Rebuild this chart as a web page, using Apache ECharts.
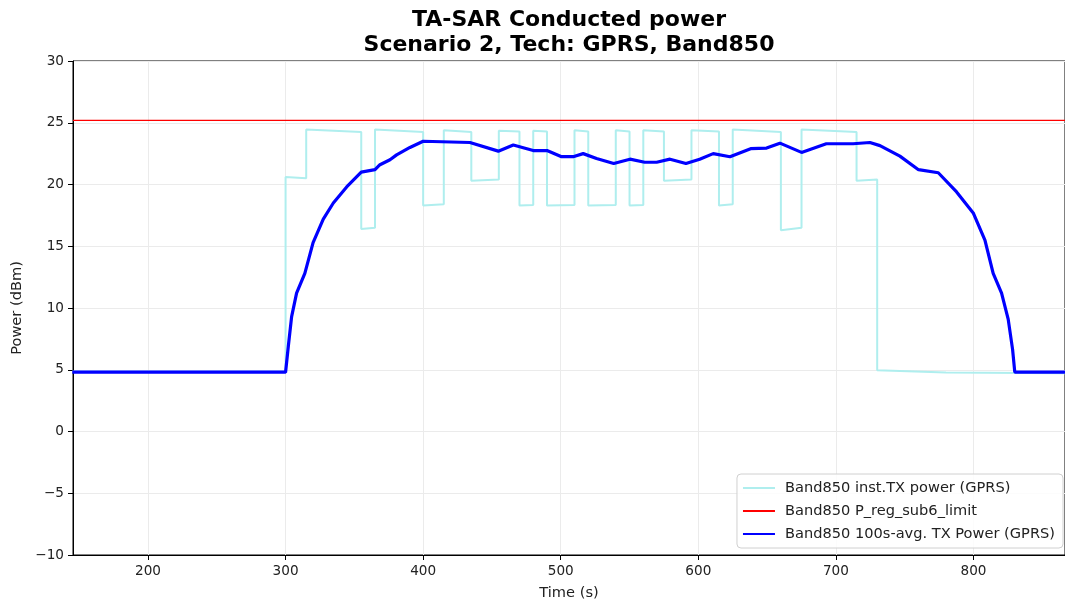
<!DOCTYPE html>
<html>
<head>
<meta charset="utf-8">
<script src="https://cdn.jsdelivr.net/npm/echarts@6/dist/echarts.min.js"></script>
<style>
  html, body { margin: 0; padding: 0; background: #fff; }
  #chart { width: 1065px; height: 606px; }
</style>
</head>
<body>
<div id="chart"></div>
<script>
// x ticks shown on the time axis
const timeTicks = [200, 300, 400, 500, 600, 700, 800];

// instantaneous TX power (step trace)
const instTime = [
  145, 300, 300, 315, 315, 355, 355, 365, 365, 400, 400, 415, 415, 435, 435, 455,
  455, 470, 470, 480, 480, 490, 490, 510, 510, 520, 520, 540, 540, 550, 550, 560,
  560, 575, 575, 595, 595, 615, 615, 625, 625, 660, 660, 675, 675, 715, 715, 730,
  730, 780, 867
];
const instPower = [
  4.85, 4.85, 20.6, 20.5, 24.45, 24.25, 16.4, 16.5, 24.45, 24.25, 18.3, 18.4, 24.4, 24.25, 20.3, 20.4,
  24.35, 24.3, 18.3, 18.35, 24.35, 24.3, 18.3, 18.35, 24.4, 24.3, 18.3, 18.35, 24.4, 24.3, 18.3, 18.35,
  24.4, 24.3, 20.3, 20.4, 24.4, 24.3, 18.3, 18.4, 24.45, 24.25, 16.3, 16.5, 24.45, 24.25, 20.3, 20.4,
  4.95, 4.78, 4.72
];

// regulatory limit
const limitValue = 25.2;

// 100 s averaged TX power
const avgTime = [
  145, 300, 302, 304.4, 308, 314, 320, 327.4, 334.7, 344.4, 355, 365, 368.6, 375.9,
  380.7, 390.4, 400, 434, 454.6, 465.5, 480, 490, 500.6, 509, 516.3, 526, 538.5,
  550.3, 561, 569.7, 579.4, 591, 601, 610.8, 623, 638, 649.6, 659.3, 675, 693,
  712.5, 724.7, 732, 746.5, 760, 774.4, 787.7, 799.8, 808.3, 814.3, 820.4, 825.2,
  828.4, 830, 867
];
const avgPower = [
  4.8, 4.8, 6.9, 9.3, 11.2, 12.8, 15.3, 17.2, 18.5, 19.8, 21.0, 21.2, 21.6, 22.0,
  22.4, 23.0, 23.5, 23.4, 22.7, 23.2, 22.75, 22.75, 22.25, 22.25, 22.5, 22.1, 21.7,
  22.05, 21.8, 21.8, 22.05, 21.7, 22.05, 22.5, 22.25, 22.9, 22.95, 23.35, 22.6, 23.3,
  23.3, 23.4, 23.15, 22.3, 21.2, 20.95, 19.4, 17.7, 15.5, 12.8, 11.2, 9.1,
  6.65, 4.8, 4.8
];

const xMin = 145.5;
const xMax = 866.5;

const font = 'DejaVu Sans';
const minus = v => String(v).replace('-', '\u2212');

const chart = echarts.init(document.getElementById('chart'), null, { renderer: 'canvas' });

chart.setOption({
  animation: false,
  backgroundColor: '#fff',
  title: {
    text: 'TA-SAR Conducted power\nScenario 2, Tech: GPRS, Band850',
    left: 564,
    textAlign: 'center',
    top: 3,
    textStyle: {
      fontFamily: font,
      fontWeight: 'bold',
      fontSize: 22,
      lineHeight: 25,
      color: '#000'
    }
  },
  grid: {
    left: 73,
    right: -1,
    top: 61,
    bottom: 50,
    show: true,
    borderColor: '#000',
    borderWidth: 1,
    containLabel: false
  },
  legend: {
    orient: 'vertical',
    right: 2,
    bottom: 58,
    itemWidth: 32,
    itemHeight: 10,
    itemGap: 7,
    padding: [6, 8, 6, 5],
    borderColor: '#d0d0d0',
    borderWidth: 1,
    borderRadius: 4,
    backgroundColor: 'rgba(255,255,255,0.85)',
    itemStyle: { opacity: 0 },
    textStyle: {
      fontFamily: font,
      fontSize: 14.6,
      lineHeight: 16,
      color: '#222',
      padding: [0, 0, 0, 5]
    },
    data: [
      'Band850 inst.TX power (GPRS)',
      'Band850 P_reg_sub6_limit',
      'Band850 100s-avg. TX Power (GPRS)'
    ]
  },
  xAxis: {
    type: 'value',
    min: xMin,
    max: xMax,
    name: 'Time (s)',
    nameLocation: 'middle',
    nameGap: 31,
    nameTextStyle: { fontFamily: font, fontSize: 14.6, color: '#222' },
    axisLine: { show: true, onZero: false, lineStyle: { color: '#000', width: 1 } },
    axisTick: {
      show: true,
      length: 5,
      customValues: timeTicks,
      lineStyle: { color: '#000' }
    },
    axisLabel: {
      customValues: timeTicks,
      fontFamily: font,
      fontSize: 13.6,
      color: '#222',
      margin: 9
    },
    splitLine: { show: true, lineStyle: { color: '#ebebeb', width: 1 } }
  },
  yAxis: {
    type: 'value',
    min: -10,
    max: 30,
    interval: 5,
    name: 'Power (dBm)',
    nameLocation: 'middle',
    nameGap: 48,
    nameTextStyle: { fontFamily: font, fontSize: 14.6, color: '#222' },
    axisLine: { show: true, onZero: false, lineStyle: { color: '#000', width: 1 } },
    axisTick: { show: true, length: 5, lineStyle: { color: '#000' } },
    axisLabel: {
      fontFamily: font,
      fontSize: 13.6,
      color: '#222',
      margin: 9,
      formatter: minus
    },
    splitLine: { show: true, lineStyle: { color: '#ebebeb', width: 1 } }
  },
  series: [
    {
      name: 'Band850 inst.TX power (GPRS)',
      type: 'line',
      data: instTime.map((t, i) => [t, instPower[i]]),
      showSymbol: false,
      symbol: 'none',
      lineStyle: { color: '#afeeee', width: 2 },
      itemStyle: { color: '#afeeee' },
      z: 2
    },
    {
      name: 'Band850 P_reg_sub6_limit',
      type: 'line',
      data: [[xMin, limitValue], [xMax, limitValue]],
      showSymbol: false,
      symbol: 'none',
      lineStyle: { color: '#ff0000', width: 1.2 },
      itemStyle: { color: '#ff0000' },
      z: 3
    },
    {
      name: 'Band850 100s-avg. TX Power (GPRS)',
      type: 'line',
      data: avgTime.map((t, i) => [t, avgPower[i]]),
      showSymbol: false,
      symbol: 'none',
      lineStyle: { color: '#0000ff', width: 3.2 },
      itemStyle: { color: '#0000ff' },
      z: 4
    }
  ]
});
</script>
</body>
</html>
